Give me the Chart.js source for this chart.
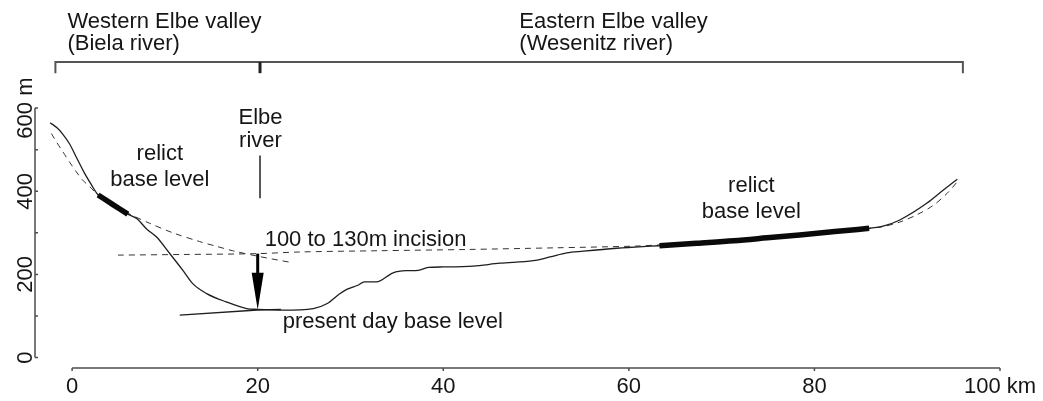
<!DOCTYPE html>
<html>
<head>
<meta charset="utf-8">
<title>Elbe valley long profile</title>
<script src="https://cdn.jsdelivr.net/npm/chart.js@4.4.1/dist/chart.umd.min.js"></script>
<style>
  html, body { margin: 0; padding: 0; background: #fff; }
  canvas { display: block; }
</style>
</head>
<body>
<canvas id="profile" width="1043" height="401"></canvas>
<script>
// valley floor: distance (km) and elevation (m)
const profileKm   = [-2.37, -1.6, -1.1, -0.3, 0.5, 1.35, 2.1, 2.8, 4.4, 6.0, 7.0, 8.0, 9.1, 10.5, 12.0, 13.0, 14.5, 16.6, 18.8, 20.0,
                     22.7, 26.0, 27.5, 28.8, 29.6, 30.8, 31.5, 32.8, 34.6, 36.0, 37.3, 38.4, 40.0, 43.2, 46.1, 49.7, 51.5, 53.3,
                     55.1, 58.7, 61.5, 63.3, 67.3, 71.3, 74.9, 78.4, 82.2, 85.9, 87.4, 89.2, 92.1, 93.9, 95.4];
const profileElev = [565, 552, 540, 515, 480, 443, 415, 391, 368, 345, 334, 310, 290, 251, 208, 178, 154, 134, 118, 116,
                     114, 118, 130, 153, 164, 174, 182, 182, 204, 209, 210, 217, 218, 220, 227, 233, 242, 252,
                     256, 263, 267, 269, 275, 281, 288, 295, 303, 311, 316, 331, 371, 403, 429];

// stretches of the floor that sit on the relict base level (km from, km to)
const relictWest = [2.8, 6.0];
const relictEast = [63.3, 85.9];

// fitted relict base level, western valley
const fitWestKm   = [-2.24, -1.67, -1.0, -0.27, 0.45, 1.13, 1.9, 2.75, 5.98, 8.36, 10.87, 13.75, 15.5, 17.3, 20.2, 23.8];
const fitWestElev = [539, 518, 495, 470, 447, 427, 411, 393, 348, 323, 300, 279, 268, 257, 243, 228];

// fitted relict base level, eastern valley
const fitEastKm   = [4.94, 12, 20, 24.5, 33, 42.5, 52, 60.5, 63.3, 67.3, 71.3, 74.9, 78.4, 82.2, 85.9, 87.4, 89.2, 91.0, 92.8, 94.3, 95.4];
const fitEastElev = [246.5, 248, 250, 254, 257, 260, 264, 268, 271, 276, 281, 288, 295, 303, 311, 315, 326, 343, 366, 395, 423];

// present day base level
const baseKm   = [11.6, 20, 22.5];
const baseElev = [102, 114.5, 116];

// incision at the Elbe (m)
const incisionTop = 250;
const incisionBottom = 115;

const xTicks = [0, 20, 40, 60, 80, 100];
const xTickLabels = ['0', '20', '40', '60', '80', '100 km'];
const yTicks = [0, 200, 400, 600];
const yTickLabels = ['0', '200', '400', '600 m'];
const yTickMarks = [0, 100, 200, 300, 400, 500, 600];

const FONT = '22px "Liberation Sans", Arial, sans-serif';
const INK = '#161616';

const pts = (xs, ys) => xs.map((v, i) => ({ x: v, y: ys[i] }));
const inRange = (r) => pts(profileKm, profileElev).filter(p => p.x >= r[0] - 1e-6 && p.x <= r[1] + 1e-6);

// axes drawn only over the data range, detached from each other
const axesPlugin = {
  id: 'detachedAxes',
  beforeDatasetsDraw(chart) {
    const { ctx, scales: { x, y } } = chart;
    const ax = x.getPixelForValue(x.min);
    const ay = y.getPixelForValue(y.min);
    ctx.save();
    ctx.strokeStyle = '#4d4d4d';
    ctx.lineWidth = 1.5;
    ctx.beginPath();
    ctx.moveTo(ax, y.getPixelForValue(0));
    ctx.lineTo(ax, y.getPixelForValue(600));
    yTickMarks.forEach(v => {
      const p = y.getPixelForValue(v);
      ctx.moveTo(ax, p);
      ctx.lineTo(ax + 3, p);
    });
    ctx.moveTo(x.getPixelForValue(0), ay);
    ctx.lineTo(x.getPixelForValue(100), ay);
    xTicks.forEach(v => {
      const p = x.getPixelForValue(v);
      ctx.moveTo(p, ay);
      ctx.lineTo(p, ay + 3);
    });
    ctx.stroke();

    ctx.fillStyle = INK;
    ctx.font = FONT;
    ctx.textAlign = 'center';
    ctx.textBaseline = 'alphabetic';
    xTicks.forEach((v, i) => ctx.fillText(xTickLabels[i], x.getPixelForValue(v), ay + 25));
    yTicks.forEach((v, i) => {
      ctx.save();
      ctx.translate(ax - 3, y.getPixelForValue(v));
      ctx.rotate(-Math.PI / 2);
      ctx.fillText(yTickLabels[i], 0, 0);
      ctx.restore();
    });
    ctx.restore();
  }
};

// valley brackets, Elbe marker, incision arrow and labels
const notesPlugin = {
  id: 'profileNotes',
  afterDatasetsDraw(chart) {
    const { ctx, scales: { x, y } } = chart;
    const px = v => x.getPixelForValue(v);
    const py = v => y.getPixelForValue(v);
    ctx.save();

    // brackets over the two valleys
    const top = py(711), foot = py(684);
    ctx.strokeStyle = '#555';
    ctx.lineWidth = 2;
    ctx.beginPath();
    ctx.moveTo(px(-1.8), foot);
    ctx.lineTo(px(-1.8), top);
    ctx.lineTo(px(96), top);
    ctx.lineTo(px(96), foot);
    ctx.stroke();
    ctx.strokeStyle = '#222';
    ctx.lineWidth = 3;
    ctx.beginPath();
    ctx.moveTo(px(20.25), top);
    ctx.lineTo(px(20.25), foot);
    ctx.stroke();

    // Elbe marker
    ctx.lineWidth = 1.5;
    ctx.beginPath();
    ctx.moveTo(px(20.25), py(486));
    ctx.lineTo(px(20.25), py(383));
    ctx.stroke();

    // incision arrow
    const ax = px(20);
    const headBase = py(incisionTop) + 19;
    ctx.strokeStyle = '#000';
    ctx.lineWidth = 3;
    ctx.beginPath();
    ctx.moveTo(ax, py(incisionTop));
    ctx.lineTo(ax, headBase + 1);
    ctx.stroke();
    ctx.fillStyle = '#000';
    ctx.beginPath();
    ctx.moveTo(ax - 6, headBase);
    ctx.lineTo(ax + 6, headBase);
    ctx.lineTo(ax, py(incisionBottom));
    ctx.closePath();
    ctx.fill();

    // labels
    ctx.fillStyle = INK;
    ctx.font = FONT;
    ctx.textBaseline = 'alphabetic';
    const label = (text, km, m, align) => {
      ctx.textAlign = align;
      ctx.fillText(text, px(km), py(m));
    };
    label('Western Elbe valley', -0.5, 792, 'left');
    label('(Biela river)', -0.5, 739, 'left');
    label('Eastern Elbe valley', 48.2, 792, 'left');
    label('(Wesenitz river)', 48.2, 739, 'left');
    label('Elbe', 20.3, 561, 'center');
    label('river', 20.3, 506, 'center');
    label('relict', 9.45, 475, 'center');
    label('base level', 9.45, 412, 'center');
    label('relict', 73.2, 398, 'center');
    label('base level', 73.2, 335, 'center');
    label('100 to 130m incision', 20.75, 268, 'left');
    label('present day base level', 22.7, 71, 'left');
    ctx.restore();
  }
};

const thin = { borderColor: '#1e1e1e', borderWidth: 1.3, pointRadius: 0, fill: false };
const dashed = { borderColor: '#333', borderWidth: 1, borderDash: [6, 5], pointRadius: 0, fill: false, tension: 0.3 };
const thick = { borderColor: '#0a0a0a', borderWidth: 5.5, pointRadius: 0, fill: false, borderCapStyle: 'butt', cubicInterpolationMode: 'monotone' };

new Chart(document.getElementById('profile'), {
  type: 'line',
  data: {
    datasets: [
      { label: 'relict base level (west)', data: pts(fitWestKm, fitWestElev), order: 4, ...dashed },
      { label: 'relict base level (east)', data: pts(fitEastKm, fitEastElev), order: 4, ...dashed },
      { label: 'present day base level', data: pts(baseKm, baseElev), order: 3, ...thin, tension: 0 },
      { label: 'valley floor', data: pts(profileKm, profileElev), order: 2, ...thin, cubicInterpolationMode: 'monotone' },
      { label: 'relict floor west', data: inRange(relictWest), order: 1, ...thick },
      { label: 'relict floor east', data: inRange(relictEast), order: 1, ...thick }
    ]
  },
  options: {
    responsive: false,
    animation: false,
    events: [],
    layout: { padding: { left: 35, right: 43, top: 0, bottom: 33 } },
    plugins: { legend: { display: false }, tooltip: { enabled: false } },
    scales: {
      x: { type: 'linear', min: -4, max: 100, display: false },
      y: { type: 'linear', min: -25, max: 860, display: false }
    }
  },
  plugins: [axesPlugin, notesPlugin]
});
</script>
</body>
</html>
